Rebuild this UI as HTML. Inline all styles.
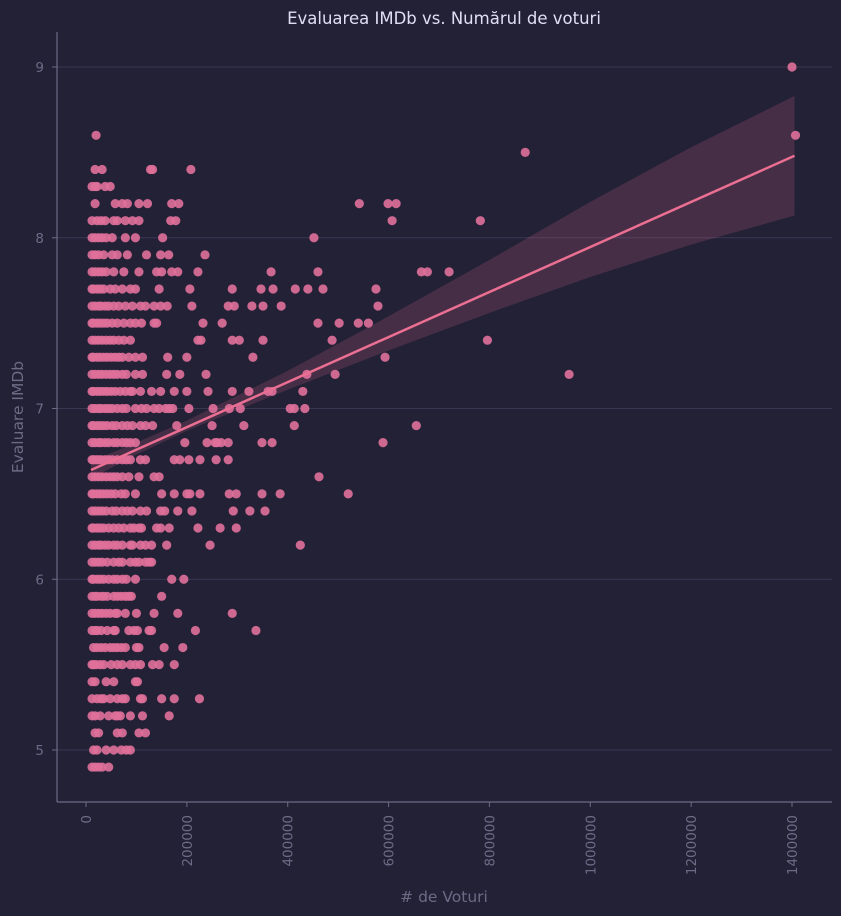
<!DOCTYPE html>
<html><head><meta charset="utf-8"><style>
html,body{margin:0;padding:0;background:#232136;}
svg{display:block;font-family:"DejaVu Sans","Liberation Sans",sans-serif;}
</style></head><body>
<svg id="chart" width="841" height="916" viewBox="0 0 841 916" xmlns="http://www.w3.org/2000/svg">
<rect x="0" y="0" width="841" height="916" fill="#232136"/>
<text x="444" y="24" text-anchor="middle" font-size="16.5" fill="#e0def4">Evaluarea IMDb vs. Numărul de voturi</text>
<g id="grid"></g><g id="band"></g><g id="points"></g><g id="reg"></g><g id="axes"></g>
<text x="444" y="902" text-anchor="middle" font-size="15.5" fill="#6e6a86"># de Voturi</text>
<text x="23" y="417" text-anchor="middle" font-size="15.5" fill="#6e6a86" transform="rotate(-90 23 417)">Evaluare IMDb</text>
</svg>
<script>
const xTicks=[0,200000,400000,600000,800000,1000000,1200000,1400000];
const yTicks=[5,6,7,8,9];
const ratingLevels=[4.9,5.0,5.1,5.2,5.3,5.4,5.5,5.6,5.7,5.8,5.9,6.0,6.1,6.2,6.3,6.4,6.5,6.6,6.7,6.8,6.9,7.0,7.1,7.2,7.3,7.4,7.5,7.6,7.7,7.8,7.9,8.0,8.1,8.2,8.3,8.4,8.5,8.6,9.0];
// votes in thousands, one list per rating level
const votesByRating=[
[12,18,25,32,45],
[15,22,40,55,70,80,88],
[18,25,62,72,105,118],
[12,18,28,45,58,62,68,88,112,165],
[12,22,30,35,48,62,72,78,108,112,150,175,225],
[12,18,40,55,98,102],
[12,15,20,28,35,50,62,72,88,98,108,132,145,175],
[15,22,30,38,48,55,62,70,78,100,105,155,192],
[12,18,22,30,42,55,58,85,95,102,125,130,217,337],
[12,18,25,32,40,48,58,62,78,100,135,182,290],
[12,18,22,30,35,42,55,62,70,78,85,90,150],
[12,15,22,28,35,45,55,62,72,80,98,170,194],
[12,18,25,32,42,55,65,72,88,98,105,118,125,130],
[12,18,25,30,38,45,55,62,72,88,92,108,118,130,160,246,425],
[12,15,22,28,35,45,55,65,75,88,95,105,110,140,148,165,222,266,298],
[12,18,25,32,40,52,60,72,82,92,108,120,148,156,182,210,292,325,355],
[12,15,22,28,35,42,50,58,70,78,98,150,175,200,206,226,284,298,349,385,520],
[12,18,25,32,40,48,55,62,72,85,105,135,145,462],
[12,15,20,25,30,38,45,52,62,72,80,88,108,118,175,186,204,226,258,282],
[12,18,25,30,38,45,55,62,72,80,88,98,196,240,256,260,268,282,349,369,589],
[12,15,22,28,35,42,52,60,72,82,92,108,118,132,180,250,313,413,655],
[12,18,25,30,38,45,52,62,72,80,98,110,120,135,145,158,165,172,204,252,284,306,405,413,434],
[12,15,22,28,35,42,50,58,68,78,88,92,108,130,148,175,200,242,290,323,361,369,430],
[12,18,25,32,40,48,55,62,72,80,98,112,160,186,238,438,494,958],
[12,15,22,28,35,42,50,58,65,72,85,98,112,162,200,331,593],
[12,18,25,32,40,48,55,65,75,88,222,228,290,304,351,488,796],
[12,15,22,28,35,42,52,62,75,88,98,110,135,140,232,270,460,502,540,560],
[12,18,25,30,38,45,55,65,78,92,108,118,135,148,161,210,282,294,329,351,387,579],
[12,15,22,28,35,48,58,72,88,98,145,206,290,347,371,415,440,470,575],
[12,18,25,32,40,55,75,105,140,150,170,182,222,367,460,665,677,720],
[12,18,25,35,52,62,82,120,148,164,236],
[12,18,25,32,40,52,78,98,152,452],
[12,22,30,38,55,62,78,92,105,168,178,607,782],
[18,58,72,82,105,122,170,184,542,599,615],
[12,18,22,38,48],
[18,32,128,132,208],
[871],
[20,1407],
[1400]
];
const regX=[10000,1405000];
const regY=[6.64,8.48];
const bandX=[10000,100000,200000,400000,600000,800000,1000000,1200000,1405000];
const bandLow=[6.59,6.73,6.87,7.11,7.34,7.56,7.77,7.96,8.13];
const bandHigh=[6.69,6.80,6.93,7.22,7.54,7.87,8.21,8.53,8.83];

const NS="http://www.w3.org/2000/svg";
const L=57,R=832,T=32,B=802;
const sx=v=>86+(v-0)*(792-86)/1400000;
const sy=r=>750-(r-5)*(750-67)/4;
function mk(tag,attrs,parent){const e=document.createElementNS(NS,tag);for(const k in attrs)e.setAttribute(k,attrs[k]);parent.appendChild(e);return e;}
const grid=document.getElementById('grid'),axes=document.getElementById('axes');
yTicks.forEach(t=>{
 const g=mk('line',{x1:L,x2:R,y1:sy(t),y2:sy(t),stroke:'#3a3753','stroke-width':1},grid);
 
 
 const tk=mk('line',{x1:L-5,x2:L,y1:sy(t),y2:sy(t),stroke:'#6e6a86'},axes);
 
 
 const tx=mk('text',{x:L-13,y:sy(t)+5,'text-anchor':'end','font-size':13.5,fill:'#6e6a86'},axes);
 tx.textContent=String(t);
 
 
});
xTicks.forEach(t=>{
 const x=sx(t);
 const tk=mk('line',{x1:x,x2:x,y1:B,y2:B+5,stroke:'#6e6a86'},axes);
 
 
 const tx=mk('text',{x:x+5,y:B+13,'text-anchor':'end','font-size':13.5,fill:'#6e6a86',transform:`rotate(-90 ${x+5} ${B+13})`},axes);
 tx.textContent=String(t);
 
 
});
const ya=mk('line',{x1:L,x2:L,y1:T,y2:B,stroke:'#6e6a86','stroke-width':1.2},axes);


const xa=mk('line',{x1:L,x2:R,y1:B,y2:B,stroke:'#6e6a86','stroke-width':1.2},axes);


let d='M'+bandX.map((v,i)=>sx(v)+','+sy(bandHigh[i])).join('L');
for(let i=bandX.length-1;i>=0;i--)d+='L'+sx(bandX[i])+','+sy(bandLow[i]);
const band=mk('path',{d:d+'Z',fill:'rgba(235,111,146,0.18)'},document.getElementById('band'));


const pg=document.getElementById('points');
ratingLevels.forEach((r,i)=>{
 votesByRating[i].forEach(v=>{
  const c=mk('circle',{cx:sx(v*1000),cy:sy(r),r:4.6,fill:'#e0709a','fill-opacity':0.9},pg);
  
  
 });
});
const rl=mk('line',{x1:sx(regX[0]),y1:sy(regY[0]),x2:sx(regX[1]),y2:sy(regY[1]),stroke:'#eb6f92','stroke-width':2.5},document.getElementById('reg'));


</script>
</body></html>
